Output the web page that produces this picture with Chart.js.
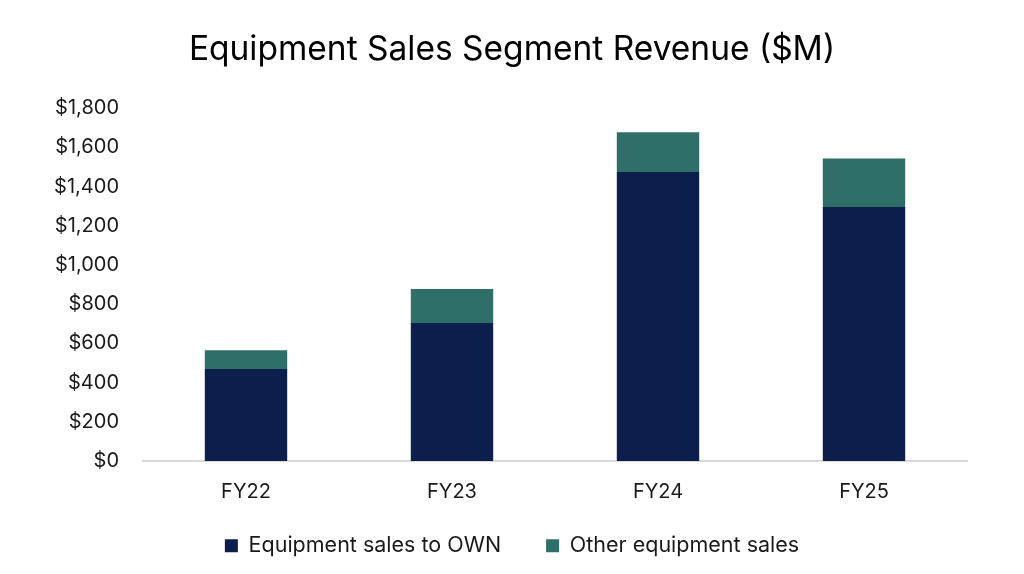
<!DOCTYPE html>
<html>
<head>
<meta charset="utf-8">
<script src="https://cdn.jsdelivr.net/npm/chart.js@4/dist/chart.umd.min.js"></script>
<style>
  html,body{margin:0;padding:0;background:#fff;}
  #grafico{display:block;}
</style>
</head>
<body>
<canvas id="grafico" width="1024" height="574"></canvas>
<script>
// dados
var anos = ["FY22", "FY23", "FY24", "FY25"];
var vendas_own = [469, 704, 1475, 1296];
var vendas_outras = [96, 174, 202, 248];
var rotulos = ["Equipment sales to OWN", "Other equipment sales"];
var titulo = "Equipment Sales Segment Revenue ($M)";

var fonte = "Inter, 'Noto Sans', sans-serif";

// legenda: altura fixa e sobe um pouco (padding grande so para o espaco entre itens)
var ajusteLegenda = {
    id: 'ajusteLegenda',
    afterInit: function(chart){
        var leg = chart.legend;
        var fit0 = leg.fit;
        leg.fit = function(){
            fit0.call(this);
            this.height = 68;
        };
    },
    afterLayout: function(chart){
        chart.legend.top -= 16;
        chart.legend.bottom -= 16;
    }
};

var dados = {
    labels: anos,
    datasets: [{
        label: rotulos[0],
        data: vendas_own,
        backgroundColor: '#0c1e4b',
        barPercentage: 0.4,
        categoryPercentage: 1
    }, {
        label: rotulos[1],
        data: vendas_outras,
        backgroundColor: '#306e6a',
        barPercentage: 0.4,
        categoryPercentage: 1
    }]
};

var config = {
    type: 'bar',
    data: dados,
    plugins: [ajusteLegenda],
    options: {
        responsive: false,
        animation: false,
        devicePixelRatio: 1,
        layout: {padding: 0},
        plugins: {
            title: {
                display: true,
                text: titulo,
                color: '#000',
                font: {family: fonte, size: 33.5, weight: 'normal'},
                padding: {top: 30, bottom: 38}
            },
            legend: {
                position: 'bottom',
                labels: {
                    color: '#1a1a1a',
                    font: {family: fonte, size: 21.5},
                    boxWidth: 13,
                    boxHeight: 13,
                    padding: 45
                }
            },
            tooltip: {enabled: false}
        },
        scales: {
            x: {
                stacked: true,
                grid: {display: false, drawTicks: false},
                border: {display: true, color: '#d9d9d9', width: 2},
                afterFit: function(s){ s.height = 45; },
                ticks: {color: '#1a1a1a', font: {family: fonte, size: 20}, padding: 19}
            },
            y: {
                stacked: true,
                min: 0,
                max: 1800,
                grid: {display: false, drawTicks: false},
                border: {display: false},
                afterFit: function(s){ s.width = 143; },
                ticks: {
                    stepSize: 200,
                    color: '#1a1a1a',
                    font: {family: fonte, size: 20},
                    padding: 24,
                    callback: function(v){ return '$' + v.toLocaleString('en-US'); }
                }
            },
            margem: {
                position: 'right',
                grid: {display: false, drawTicks: false},
                border: {display: false},
                ticks: {display: false},
                afterFit: function(s){ s.width = 57; }
            }
        }
    }
};

var ctx = document.getElementById('grafico').getContext('2d');
var g1 = new Chart(ctx, config);
</script>
</body>
</html>
